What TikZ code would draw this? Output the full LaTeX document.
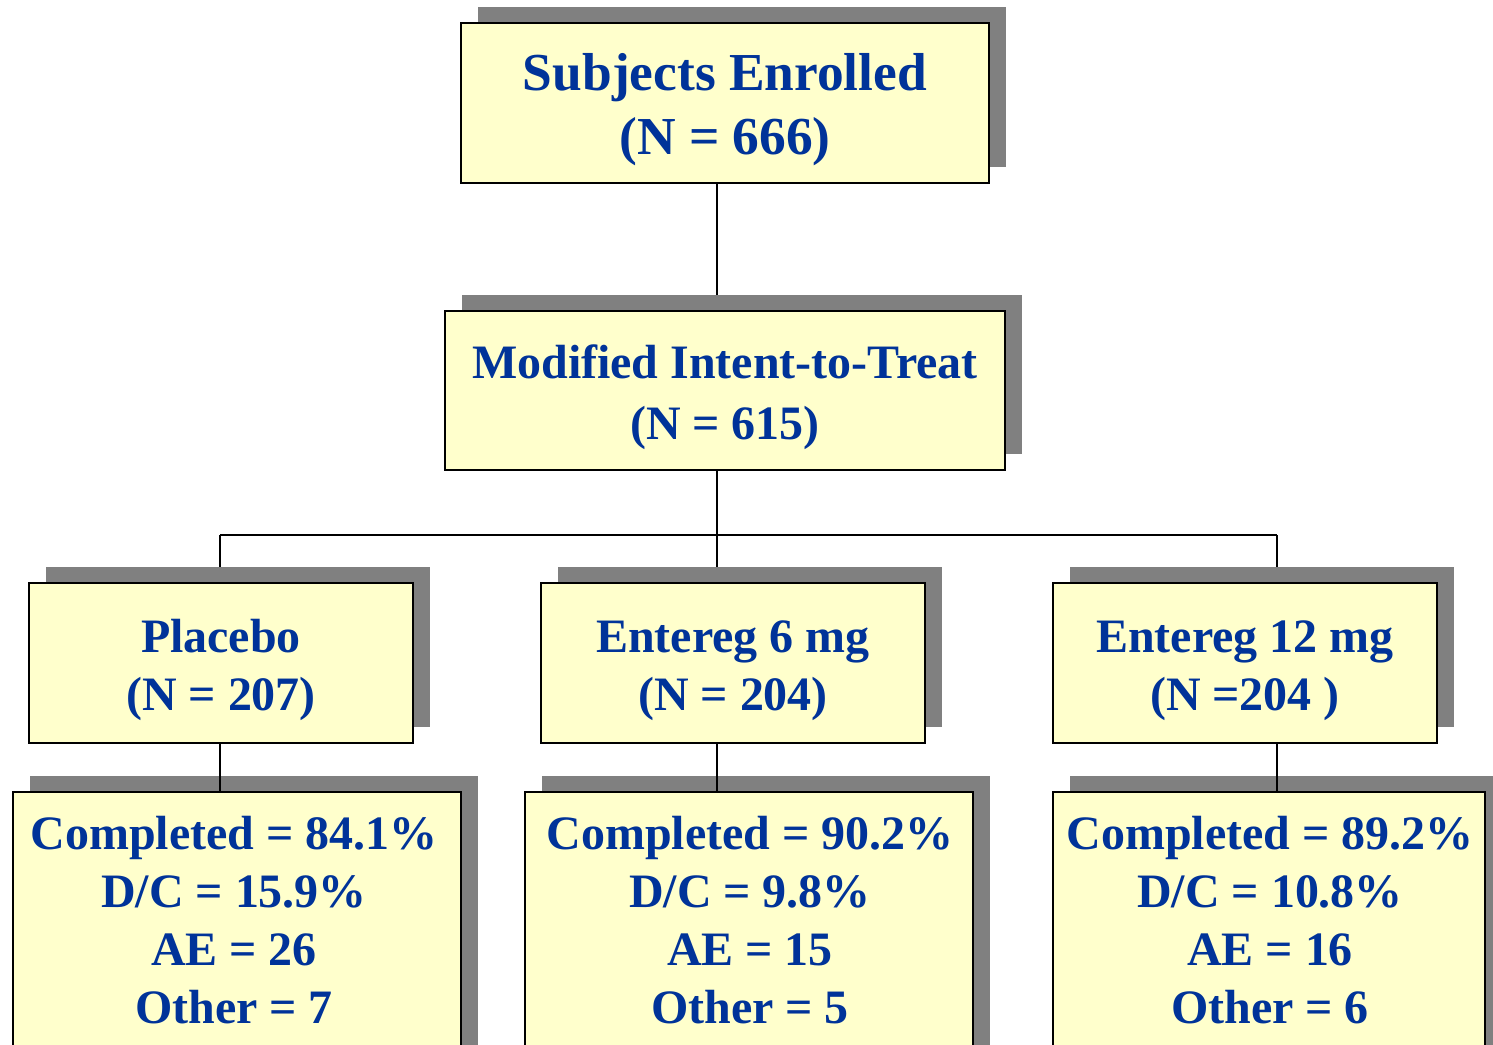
\documentclass[tikz,border=0pt]{standalone}
\usepackage{fontspec}
\setmainfont{Liberation Serif}
\usetikzlibrary{shadows}
\definecolor{boxblue}{HTML}{003399}
\definecolor{boxfill}{HTML}{FFFFCC}
\definecolor{shadegray}{HTML}{808080}

\begin{document}
\begin{tikzpicture}[x=0.02cm,y=-0.02cm]

    \tikzset{
      flowbox/.style={
        draw,
        line width=1.1pt,
        fill=boxfill,
        text=boxblue,
        align=center,
        inner sep=0pt,
        font=\bfseries\fontsize{27.3}{33}\selectfont,
        drop shadow={shadow xshift=0.34cm, shadow yshift=0.32cm, fill=shadegray, opacity=1},
      },
      countlines/.style={
        text=boxblue,
        align=center,
        inner sep=0pt,
        font=\bfseries\fontsize{27.3}{33}\selectfont,
      },
      link/.style={line width=1.1pt},
    }
    \clip (0,0) rectangle (1493,1044);

    % junction points of the tree
    \coordinate (jpla) at (220,535);
    \coordinate (jsix) at (717,535);
    \coordinate (jtwelve) at (1277,535);

    \path (725,103) node (enrol) {};
    \path (725,390.5) node (mitt) {};
    \draw[link] (enrol -| jsix) -- (mitt -| jsix);
    \draw[link] (mitt -| jsix) -- (jsix);
    \draw[link] (jpla) -- (jtwelve);
    \draw[link] (jpla) -- ([yshift=-1cm]jpla);
    \draw[link] (jsix) -- ([yshift=-1cm]jsix);
    \draw[link] (jtwelve) -- ([yshift=-1cm]jtwelve);

	\node[flowbox, minimum width=10.56cm, minimum height=3.2cm, font=\bfseries\fontsize{30.4}{36.4}\selectfont] (enrolbox) at (enrol) {\rule{0pt}{29pt}Subjects Enrolled\\(N = 666)};
	\node[flowbox, minimum width=11.2cm, minimum height=3.18cm, font=\bfseries\fontsize{27.3}{34.7}\selectfont] (mittbox) at (mitt) {\rule{0pt}{27pt}Modified Intent-to-Treat\\(N = 615)};

	\node[flowbox, minimum width=7.68cm, minimum height=3.2cm] (pla) at (221,663) {\rule{0pt}{27pt}Placebo\\(N = 207)};
	\node[flowbox, minimum width=7.68cm, minimum height=3.2cm] (six) at (733,663) {\rule{0pt}{27pt}Entereg 6 mg\\(N = 204)};
	\node[flowbox, minimum width=7.68cm, minimum height=3.2cm] (twelve) at (1245,663) {\rule{0pt}{27pt}Entereg 12 mg\\(N =204 )};

	\node[flowbox, minimum width=8.96cm, minimum height=5.6cm, anchor=north] (plaout) at (237,791) {};
	\node[flowbox, minimum width=8.96cm, minimum height=5.6cm, anchor=north] (sixout) at (749,791) {};
	\node[flowbox, minimum width=8.64cm, minimum height=5.6cm, anchor=north] (twelveout) at (1269,791) {};

	\node[countlines, anchor=north] (platext) at (234,816) {Completed = 84.1\%\\D/C = 15.9\%\\AE = 26\\Other = 7};
	\node[countlines, anchor=north] (sixtext) at (750,816) {Completed = 90.2\%\\D/C = 9.8\%\\AE = 15\\Other = 5};
	\node[countlines, anchor=north] (twelvetext) at (1270,816) {Completed = 89.2\%\\D/C = 10.8\%\\AE = 16\\Other = 6};

    \draw[link] (jpla |- pla.south) -- (jpla |- plaout.north);
    \draw[link] (jsix |- six.south) -- (jsix |- sixout.north);
    \draw[link] (jtwelve |- twelve.south) -- (jtwelve |- twelveout.north);

\end{tikzpicture}
\end{document}
